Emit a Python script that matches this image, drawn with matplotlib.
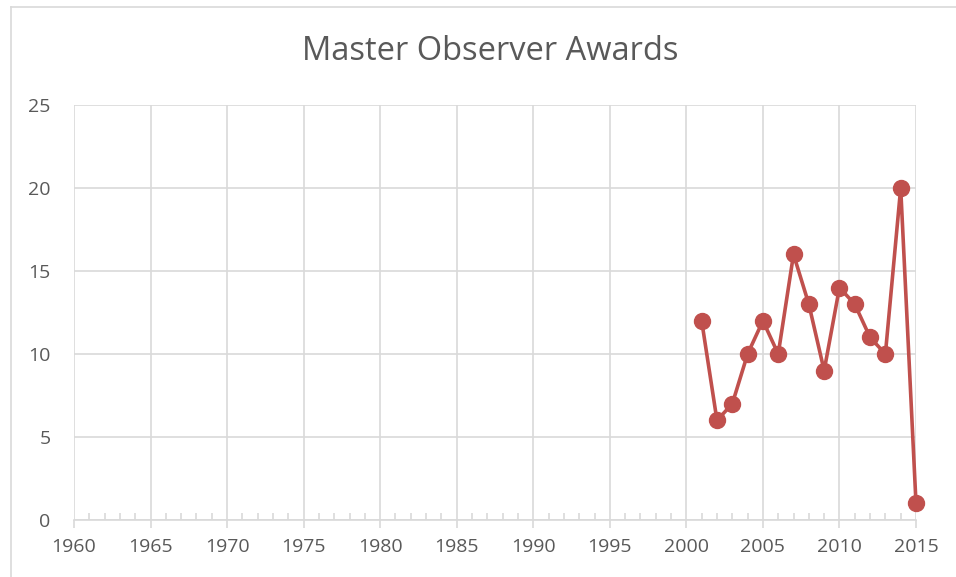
import matplotlib
matplotlib.use('Agg')
import matplotlib.pyplot as plt
from matplotlib.lines import Line2D
from matplotlib.ticker import MultipleLocator

# ----- DATA -----
years = [2001, 2002, 2003, 2004, 2005, 2006, 2007, 2008,
         2009, 2010, 2011, 2012, 2013, 2014, 2015]
awards = [12, 6, 7, 10, 12, 10, 16, 13, 9, 14, 13, 11, 10, 20, 1]

# ----- STYLE -----
plt.rcParams['font.family'] = ['Open Sans', 'DejaVu Sans']
TEXT = '#595959'
GRID = '#D9D9D9'
LINE = '#C0504D'

fig = plt.figure(figsize=(9.56, 5.77), dpi=100)
ax = fig.add_axes([74 / 956, 1 - 520 / 577, (916 - 74) / 956, (520 - 105) / 577])

ax.plot(years, awards, color=LINE, linewidth=2.6, marker='o',
        markersize=11.5, solid_joinstyle='round', zorder=3, clip_on=False)

ax.set_xlim(1960, 2015)
ax.set_ylim(0, 25)
ax.xaxis.set_major_locator(MultipleLocator(5))
ax.xaxis.set_minor_locator(MultipleLocator(1))
ax.yaxis.set_major_locator(MultipleLocator(5))

ax.grid(True, which='major', color=GRID, linewidth=1.2)
ax.set_axisbelow(True)
for side in ['top', 'right', 'left']:
    ax.spines[side].set_visible(False)
ax.spines['bottom'].set_color(GRID)
ax.spines['bottom'].set_linewidth(1.2)

ax.tick_params(axis='x', which='major', direction='out', length=6,
               width=1.2, color=GRID, labelsize=14, labelcolor=TEXT, pad=7)
ax.tick_params(axis='x', which='minor', direction='in', length=5,
               width=1.2, color=GRID)
ax.tick_params(axis='y', which='major', length=0, labelsize=14,
               labelcolor=TEXT, pad=17)

fig.text(490 / 956, 1 - 51 / 577, 'Master Observer Awards', ha='center',
         va='center', fontsize=23.5, color=TEXT)

# chart frame (only top-left part visible)
fig.add_artist(Line2D([10.5 / 956, 10.5 / 956], [0, 1 - 6.5 / 577],
                      transform=fig.transFigure, color=GRID, linewidth=1.2))
fig.add_artist(Line2D([10.5 / 956, 1], [1 - 6.5 / 577, 1 - 6.5 / 577],
                      transform=fig.transFigure, color=GRID, linewidth=1.2))

fig.savefig('out.png', dpi=100, facecolor='white')
